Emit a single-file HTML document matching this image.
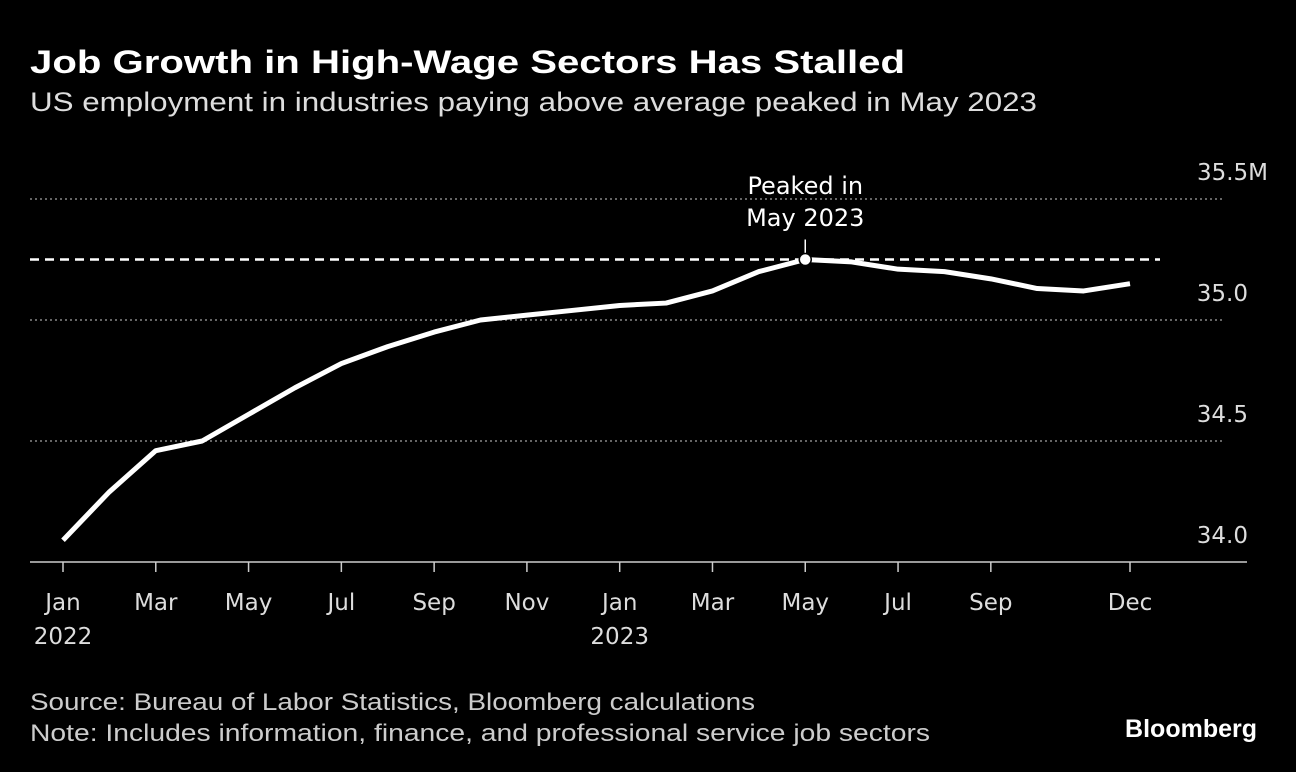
<!DOCTYPE html>
<html><head><meta charset="utf-8"><style>
body{margin:0;background:#000;width:1296px;height:772px;overflow:hidden;font-family:"Liberation Sans",sans-serif;color:#fff}
svg{position:absolute;left:0;top:0}
</style></head><body>
<svg width="1296" height="772">
<text x="30" y="73" font-size="32" font-weight="bold" fill="#fff" textLength="875" lengthAdjust="spacingAndGlyphs">Job Growth in High-Wage Sectors Has Stalled</text>
<text x="30" y="111" font-size="27" fill="#ddd" textLength="1007" lengthAdjust="spacingAndGlyphs">US employment in industries paying above average peaked in May 2023</text>
<g id="grid"></g><g id="xaxis"></g>
<path id="line" fill="none" stroke="#fff" stroke-width="5" stroke-linejoin="round"/>
<g id="annot"></g>
<text x="30" y="710" font-size="24" fill="#ccc" textLength="725" lengthAdjust="spacingAndGlyphs">Source: Bureau of Labor Statistics, Bloomberg calculations</text>
<text x="30" y="741" font-size="24" fill="#ccc" textLength="900" lengthAdjust="spacingAndGlyphs">Note: Includes information, finance, and professional service job sectors</text>
<text x="1257" y="737" font-size="25" font-weight="bold" fill="#fff" text-anchor="end">Bloomberg</text>
</svg>
<script>
const values=[34.09,34.29,34.46,34.50,34.61,34.72,34.82,34.89,34.95,35.00,35.02,35.04,35.06,35.07,35.12,35.20,35.25,35.24,35.21,35.20,35.17,35.13,35.12,35.15];
const yTicks=[34.0,34.5,35.0,35.5];
const yTickLabels=["34.0","34.5","35.0","35.5M"];
const xTickIdx=[0,2,4,6,8,10,12,14,16,18,20,23];
const xTickLabels=["Jan","Mar","May","Jul","Sep","Nov","Jan","Mar","May","Jul","Sep","Dec"];
const xYearLabels={0:"2022",12:"2023"};
const peakIdx=16;
const peakValue=35.25;
const NS="http://www.w3.org/2000/svg";
const FT='"DejaVu Sans",sans-serif';
const x=i=>63+i*(1130-63)/23;
const y=v=>562-(v-34)*242;
function mk(tag,attrs,parent,text){const e=document.createElementNS(NS,tag);for(const k in attrs)e.setAttribute(k,attrs[k]);if(text!==undefined)e.textContent=text;parent.appendChild(e);return e;}
const grid=document.getElementById('grid');
yTicks.forEach((t,i)=>{
 if(t>34){const l=mk('line',{x1:30,x2:1222,y1:y(t),y2:y(t),stroke:'#888','stroke-width':1.5,'stroke-dasharray':'2,3'},grid);
 
 }
 const tx=mk('text',{x:1248,y:y(t)-19,'font-size':23,'font-family':FT,fill:'#ddd','text-anchor':'end'},grid,yTickLabels[i]);
 if(i===3)tx.setAttribute('x',1268);
 
 
});
const xa=document.getElementById('xaxis');
const ax=mk('line',{x1:30,x2:1247,y1:562,y2:562,stroke:'#ccc','stroke-width':1.5},xa);


xTickIdx.forEach((idx,i)=>{
 const tk=mk('line',{x1:x(idx),x2:x(idx),y1:562,y2:572,stroke:'#ccc','stroke-width':1.5},xa);
 
 
 const t=mk('text',{x:x(idx),y:610,'font-size':23,'font-family':FT,fill:'#ddd','text-anchor':'middle'},xa,xTickLabels[i]);
 
 
 if(xYearLabels[idx]){const yt=mk('text',{x:x(idx),y:644,'font-size':23,'font-family':FT,fill:'#ddd','text-anchor':'middle'},xa,xYearLabels[idx]);
 
 }
});
document.getElementById('line').setAttribute('d',values.map((v,i)=>(i?'L':'M')+x(i)+','+y(v)).join(''));
const an=document.getElementById('annot');
const dl=mk('line',{x1:30,x2:1160,y1:y(peakValue),y2:y(peakValue),stroke:'#fff','stroke-width':2.5,'stroke-dasharray':'9,6'},an);


const st=mk('line',{x1:x(peakIdx),x2:x(peakIdx),y1:y(peakValue)-20,y2:y(peakValue),stroke:'#fff','stroke-width':1.5},an);


const dot=mk('circle',{cx:x(peakIdx),cy:y(values[peakIdx]),r:6,fill:'#fff',stroke:'#000','stroke-width':1.5},an);


const a1=mk('text',{x:x(peakIdx),y:194,'font-size':24,'font-family':FT,fill:'#fff','text-anchor':'middle'},an,'Peaked in');


const a2=mk('text',{x:x(peakIdx),y:226,'font-size':24,'font-family':FT,fill:'#fff','text-anchor':'middle'},an,'May 2023');


</script>
</body></html>
